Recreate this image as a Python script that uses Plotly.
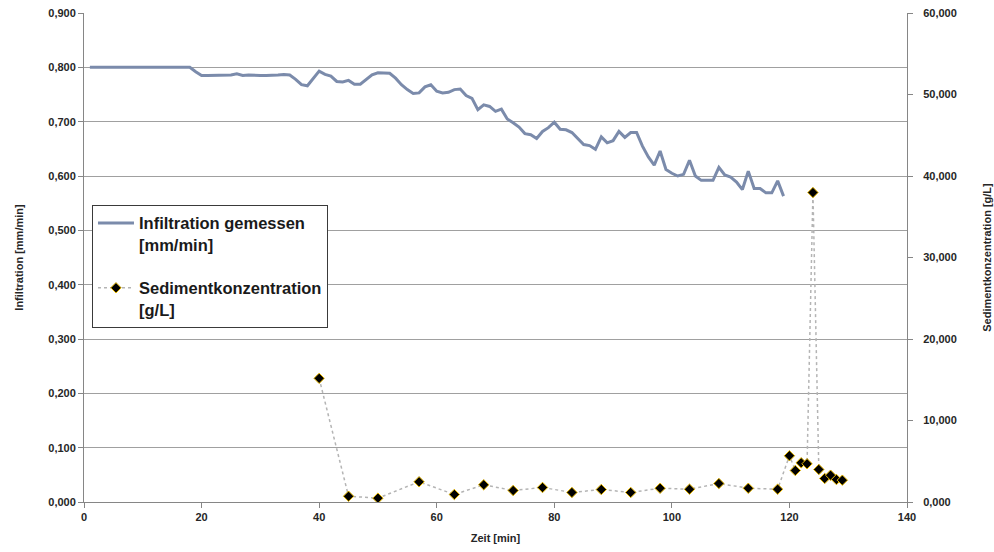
import plotly.graph_objects as go

# Infiltration measured [mm/min], per minute
time_inf = list(range(1, 120))
infiltration = [
    0.800, 0.800, 0.800, 0.800, 0.800, 0.800, 0.800, 0.800, 0.800, 0.800,
    0.800, 0.800, 0.800, 0.800, 0.800, 0.800, 0.800, 0.800, 0.792, 0.785,
    0.785, 0.785, 0.785, 0.786, 0.786, 0.788, 0.785, 0.786, 0.785, 0.785,
    0.785, 0.785, 0.786, 0.787, 0.786, 0.778, 0.768, 0.766, 0.780, 0.793,
    0.787, 0.784, 0.774, 0.773, 0.776, 0.769, 0.769, 0.778, 0.786, 0.790,
    0.790, 0.789, 0.780, 0.768, 0.759, 0.752, 0.753, 0.764, 0.768, 0.756,
    0.753, 0.754, 0.759, 0.760, 0.748, 0.743, 0.722, 0.731, 0.728, 0.719,
    0.723, 0.705, 0.698, 0.690, 0.678, 0.676, 0.669, 0.682, 0.689, 0.699,
    0.686, 0.685, 0.680, 0.668, 0.658, 0.656, 0.649, 0.672, 0.661, 0.665,
    0.682, 0.671, 0.680, 0.680, 0.655, 0.635, 0.620, 0.646, 0.612, 0.605,
    0.600, 0.603, 0.629, 0.600, 0.592, 0.592, 0.592, 0.616, 0.602, 0.598,
    0.589, 0.575, 0.609, 0.577, 0.577, 0.569, 0.569, 0.591, 0.563,
]

# Sediment concentration [g/L]
time_sed = [40, 45, 50, 57, 63, 68, 73, 78, 83, 88, 93, 98, 103, 108, 113, 118,
            120, 121, 122, 123, 124, 125, 126, 127, 128, 129]
sediment = [15.17, 0.71, 0.47, 2.48, 0.92, 2.11, 1.41, 1.78, 1.17, 1.53, 1.17, 1.69,
            1.57, 2.27, 1.69, 1.57, 5.67, 3.87, 4.81, 4.69, 37.97, 3.99, 2.89, 3.29,
            2.76, 2.68]

x_ticks = [0, 20, 40, 60, 80, 100, 120, 140]

FONT = "Liberation Sans, Arial, sans-serif"
TXT = "#262626"
AX = "#868686"
GRID = "#a0a0a0"

fig = go.Figure()
fig.add_trace(go.Scatter(
    x=time_inf, y=infiltration, mode="lines",
    name="Infiltration gemessen<br>[mm/min]",
    line=dict(color="#7b8bab", width=3),
    legendgroup="a",
))
fig.add_trace(go.Scatter(
    x=time_sed, y=sediment, mode="lines+markers", yaxis="y2",
    name="Sedimentkonzentration<br>[g/L]",
    line=dict(color="#b4b4b4", width=1.5, dash="dot"),
    marker=dict(symbol="diamond", size=8, color="black",
                line=dict(color="#e8b800", width=1)),
    legendgroup="b",
))

fig.update_layout(
    width=994, height=552,
    margin=dict(l=84, r=87, t=13, b=50),
    paper_bgcolor="white", plot_bgcolor="white",
    separators=",.",
    font=dict(family=FONT, color=TXT, size=11),
    showlegend=True,
    legend=dict(
        x=0.0097, y=0.608, xanchor="left", yanchor="top",
        bgcolor="white", bordercolor="#3a3a3a", borderwidth=1,
        font=dict(family=FONT, size=16.5, color="#1a1a1a", weight="bold"),
        traceorder="grouped", tracegroupgap=19, valign="top",
        itemwidth=36,
    ),
    xaxis=dict(
        range=[0, 140], tickvals=x_ticks, ticktext=[str(v) for v in x_ticks],
        showgrid=False, zeroline=False, automargin=False,
        showline=True, linecolor=AX, linewidth=1,
        ticks="outside", ticklen=5, tickcolor=AX,
        tickfont=dict(family=FONT, size=11, color=TXT, weight="bold"),
        title=dict(text="Zeit [min]", standoff=12,
                   font=dict(family=FONT, size=11, color=TXT, weight="bold")),
    ),
    yaxis=dict(
        range=[0, 0.9], dtick=0.1, tickformat=".3f",
        showgrid=True, gridcolor=GRID, gridwidth=1, zeroline=False,
        automargin=False,
        showline=True, linecolor=AX, linewidth=1,
        ticks="outside", ticklen=5, tickcolor=AX,
        tickfont=dict(family=FONT, size=11, color=TXT, weight="bold"),
        title=dict(text="Infiltration [mm/min]", standoff=22,
                   font=dict(family=FONT, size=11, color=TXT, weight="bold")),
    ),
    yaxis2=dict(
        range=[0, 60], dtick=10, tickformat=".3f",
        overlaying="y", side="right",
        showgrid=False, zeroline=False, automargin=False,
        showline=True, linecolor=AX, linewidth=1,
        ticks="outside", ticklen=5, tickcolor=AX,
        ticklabelstandoff=8,
        tickfont=dict(family=FONT, size=11, color=TXT, weight="bold"),
        title=dict(text="Sedimentkonzentration [g/L]", standoff=27,
                   font=dict(family=FONT, size=11, color=TXT, weight="bold")),
    ),
)

fig.write_html("out.html")
